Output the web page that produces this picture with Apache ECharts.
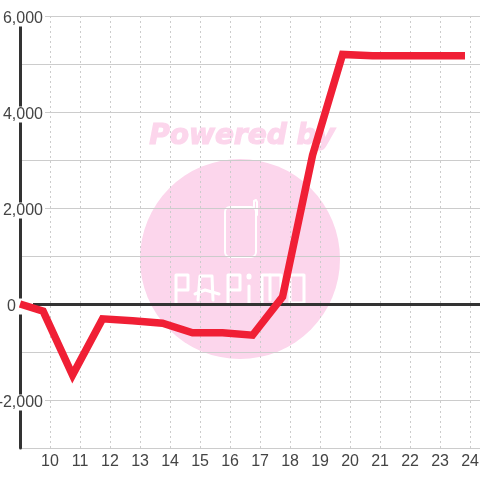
<!DOCTYPE html>
<html><head><meta charset="utf-8">
<script src="https://cdn.jsdelivr.net/npm/echarts@6/dist/echarts.min.js"></script>
<style>html,body{margin:0;padding:0;background:#fff}#c{width:480px;height:480px}</style>
</head><body><div id="c"></div>
<script>
const hours = [9, 9.77, 10.75, 11.75, 12.75, 13.75, 14.75, 15.75, 16.75, 17.75, 18.75, 19.75, 20.75, 21.75, 22.75, 23.83];
const values = [0, -150, -1480, -310, -350, -400, -600, -600, -650, 150, 3100, 5200, 5170, 5170, 5170, 5170];
const yMin = -3000, yMax = 6000, yStep = 1000;
const xMin = 9, xMax = 24.33, xStep = 1;
const pink = '#fcd6ec';
const fmt = v => v.toLocaleString('en-US');
const labelStyle = {color:'#444', fontFamily:'Liberation Sans', fontSize:16, lineHeight:13, backgroundColor:'#fff'};
const chart = echarts.init(document.getElementById('c'), null, {renderer:'canvas'});
const w = (l, lw) => ({type:'polyline', silent:true, z:-1, shape:{points:l}, style:{stroke:'#fff', lineWidth:lw||3, fill:null, lineJoin:'round', lineCap:'round'}});
chart.setOption({
  animation:false,
  grid:{left:20, right:0, top:16, bottom:32, outerBoundsMode:'none'},
  graphic:[
    {type:'circle', z:-2, silent:true, shape:{cx:240, cy:259, r:100}, style:{fill:pink}},
    {type:'text', z:-2, silent:true, x:242, y:137, style:{text:'Powered by', fill:pink, stroke:pink, lineWidth:1.2, fontStyle:'italic', fontWeight:'bold', fontFamily:'DejaVu Sans', fontSize:28, align:'center', verticalAlign:'middle'}},
    {type:'rect', z:-1, silent:true, shape:{x:225, y:207, width:31, height:50, r:5}, style:{stroke:'#fff', lineWidth:2, fill:null}},
    w([[254,207],[254,201],[256,200],[257,202],[257,215]],2),
    w([[176,303],[176,275],[188,275],[188,290],[176,290]]),
    w([[198,300],[200,276],[212,276],[213,300]]), w([[195,294],[205,290],[219,294]]),
    w([[228,303],[228,275],[240,275],[240,290],[228,290]]),
    w([[249,304],[249,286]]), w([[249,276],[249,277]],5),
    w([[262,303],[262,275],[270,275],[270,300]]), w([[270,275],[281,275],[281,300]]),
    w([[290,303],[290,275],[304,275],[304,303],[290,303]])
  ],
  xAxis:[
    {type:'value', min:xMin, max:xMax, interval:xStep, position:'bottom', z:0,
     axisLine:{show:false, onZero:false}, axisTick:{show:false},
     axisLabel:{color:'#444', fontFamily:'Liberation Sans', fontSize:16, margin:6, showMinLabel:false, showMaxLabel:false, hideOverlap:false},
     splitLine:{show:true, showMinLine:false, showMaxLine:false, lineStyle:{color:'#ccc', width:1, type:[2,3]}}},
    {type:'value', min:xMin, max:xMax, interval:xStep, z:3,
     axisLine:{show:true, onZero:true, lineStyle:{color:'#333', width:3}}, axisTick:{show:false}, axisLabel:{show:false}, splitLine:{show:false}}
  ],
  yAxis:[
    {type:'value', min:yMin, max:yMax, interval:yStep, z:0,
     axisLine:{show:false, onZero:false}, axisTick:{show:false}, axisLabel:{show:false},
     splitLine:{show:true, lineStyle:{color:'#ccc', width:1}}},
    {type:'value', min:yMin, max:yMax, interval:yStep, z:5, position:'left',
     axisLine:{show:true, onZero:false, lineStyle:{color:'#333', width:3}}, axisTick:{show:false},
     axisLabel:{inside:false, margin:-25, align:'right', verticalAlign:'middle', padding:[5,0,0,0],
       formatter:v => v === 0 ? '{z|0}{g| }' : (v % 2000 === 0 ? '{n|' + fmt(v) + '}' : ''),
       rich:{n:{...labelStyle, padding:[0,2,0,3]}, z:{...labelStyle, padding:[0,17,0,4]}, g:{fontSize:16, lineHeight:13, width:12}}},
     splitLine:{show:false}}
  ],
  series:[{type:'line', xAxisIndex:0, yAxisIndex:0, data:hours.map((h,i)=>[h,values[i]]), symbol:'none', smooth:false, z:8, clip:false,
    lineStyle:{color:'#f01f35', width:7.5, join:'miter', cap:'butt', miterLimit:10}}]
});
</script></body></html>
